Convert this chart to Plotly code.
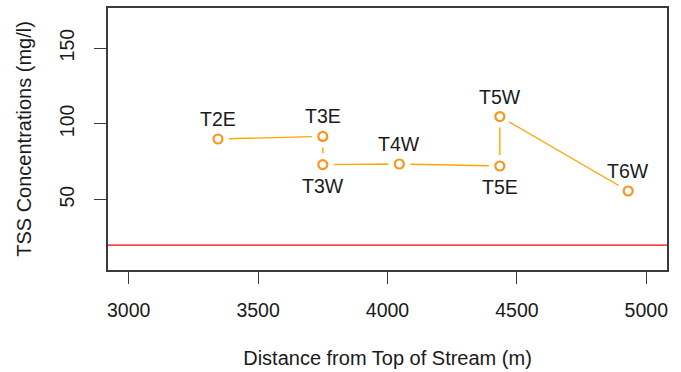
import plotly.graph_objects as go

# Data
sites = ["T2E", "T3E", "T3W", "T4W", "T5E", "T5W", "T6W"]
distance_m = [3345, 3750, 3750, 4046, 4434, 4434, 4930]
tss_mg_l = [90, 91.7, 73.1, 73.5, 72.2, 104.8, 55.7]
label_side = ["above", "above", "below", "above", "below", "above", "above"]
threshold = 20

x_ticks = [3000, 3500, 4000, 4500, 5000]
y_ticks = [50, 100, 150]

ORANGE = "#FFA500"
ORANGE_MARK = "#F8961E"
FONT = "Liberation Sans, Arial, Helvetica, sans-serif"
TXT = "#1a1a1a"

fig = go.Figure()
# connecting line
fig.add_trace(go.Scatter(x=distance_m, y=tss_mg_l, mode="lines",
                         line=dict(color=ORANGE, width=1.4),
                         hoverinfo="skip", showlegend=False))
# white halo to create R type="b" gaps
fig.add_trace(go.Scatter(x=distance_m, y=tss_mg_l, mode="markers",
                         marker=dict(color="white", size=22, line=dict(width=0)),
                         hoverinfo="skip", showlegend=False))
# open circles
fig.add_trace(go.Scatter(x=distance_m, y=tss_mg_l, mode="markers",
                         marker=dict(symbol="circle", color="white", size=9,
                                     line=dict(color=ORANGE_MARK, width=2.2)),
                         text=sites, showlegend=False))

for s, xv, yv, side in zip(sites, distance_m, tss_mg_l, label_side):
    fig.add_annotation(x=xv, y=yv, text=s, showarrow=False,
                       yshift=20 if side == "above" else -21,
                       font=dict(family=FONT, size=19.5, color=TXT))

fig.add_shape(type="line", xref="paper", x0=0, x1=1, yref="y", y0=threshold, y1=threshold,
              line=dict(color="#ff0000", width=1.2), layer="below")

axis_common = dict(showline=True, mirror=True, linecolor="#3a3a3a", linewidth=1.5,
                   ticks="outside", ticklen=12, tickwidth=1.3, tickcolor="#3a3a3a",
                   showgrid=False, zeroline=False,
                   tickfont=dict(family=FONT, size=19.5, color=TXT))

fig.update_xaxes(range=[2920, 5080], tickvals=x_ticks, ticktext=[str(v) for v in x_ticks],
                 ticklabelstandoff=10,
                 title=dict(text="Distance from Top of Stream (m)", standoff=31,
                            font=dict(family=FONT, size=20, color=TXT)),
                 **axis_common)
fig.update_yaxes(range=[3.6, 176.4], tickvals=y_ticks, ticktext=[str(v) for v in y_ticks],
                 tickangle=-90, ticklabelstandoff=12,
                 title=dict(text="TSS Concentrations (mg/l)", standoff=19,
                            font=dict(family=FONT, size=20, color=TXT)),
                 **axis_common)

fig.update_layout(width=681, height=372, margin=dict(l=108, r=14, t=6, b=102),
                  plot_bgcolor="white", paper_bgcolor="white",
                  font=dict(family=FONT, color=TXT))

fig.write_html("out.html", config={"displayModeBar": False},
               post_script="document.body.style.margin='0';")
